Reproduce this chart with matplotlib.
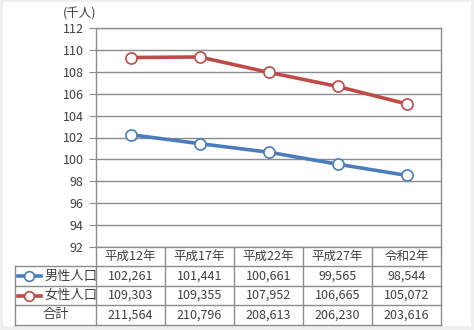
import matplotlib
matplotlib.use('Agg')
import matplotlib.pyplot as plt
from matplotlib.lines import Line2D

plt.rcParams['font.family'] = ['Noto Sans CJK JP', 'DejaVu Sans']

# data
YEARS = ['平成12年', '平成17年', '平成22年', '平成27年', '令和2年']
MALE = [102261, 101441, 100661, 99565, 98544]
FEMALE = [109303, 109355, 107952, 106665, 105072]
TOTAL = [211564, 210796, 208613, 206230, 203616]
SERIES_NAMES = ['男性人口', '女性人口']
TOTAL_NAME = '合計'
UNIT_LABEL = '(千人)'
Y_TICKS = list(range(92, 113, 2))

BLUE = '#4a7ebb'
RED = '#be4b48'
GRID = '#8c8c8c'
TEXT = '#404040'

W, H = 474, 330
fig = plt.figure(figsize=(W / 100, H / 100), dpi=100)
fig.patch.set_facecolor('#efefef')

# white panel
bg = fig.add_axes([3 / W, 1 - 326 / H, 468 / W, 324 / H])
bg.set_facecolor('white')
bg.set_xticks([])
bg.set_yticks([])
for s in bg.spines.values():
    s.set_visible(False)

# plot area in pixels
left, right, top, bottom = 96, 441, 28, 247
ax = fig.add_axes([left / W, 1 - bottom / H, (right - left) / W, (bottom - top) / H])
ax.set_facecolor('none')
x = range(len(YEARS))
ax.set_xlim(-0.5, len(YEARS) - 0.5)
ax.set_ylim(92, 112)
ax.set_yticks(Y_TICKS)
ax.set_yticklabels([str(t) for t in Y_TICKS], fontsize=9, color=TEXT)
ax.set_xticks([])
ax.tick_params(axis='y', length=5, color=GRID, pad=4)
ax.grid(axis='y', color=GRID, lw=1)
ax.set_axisbelow(True)
for s in ax.spines.values():
    s.set_color(GRID)
    s.set_linewidth(1)

for vals, col in [(MALE, BLUE), (FEMALE, RED)]:
    ax.plot(x, [v / 1000 for v in vals], color=col, lw=2.6, marker='o', ms=8,
            mfc='white', mec=col, mew=1.2, clip_on=False, zorder=3)

fig.text(63 / W, 1 - 14 / H, UNIT_LABEL, fontsize=9, color=TEXT, va='center')

# table drawn in pixel coordinates
tb = fig.add_axes([0, 0, 1, 1])
tb.set_xlim(0, W)
tb.set_ylim(H, 0)
tb.axis('off')

tleft = 15
colw = (right - left) / len(YEARS)
rows_y = [247, 266.4, 285.8, 305.2, 324.6]
edges = [left + i * colw for i in range(len(YEARS) + 1)]

# horizontal lines
for yy in rows_y[1:]:
    tb.plot([tleft, right], [yy, yy], color=GRID, lw=1)
# vertical lines
tb.plot([tleft, tleft], [rows_y[1], rows_y[4]], color=GRID, lw=1)
for e in edges:
    tb.plot([e, e], [rows_y[0], rows_y[4]], color=GRID, lw=1)

cy = [(rows_y[i] + rows_y[i + 1]) / 2 for i in range(4)]
for i, lab in enumerate(YEARS):
    cx = left + (i + 0.5) * colw
    tb.text(cx, cy[0], lab, ha='center', va='center', fontsize=9, color=TEXT)
    tb.text(cx, cy[1], f'{MALE[i]:,}', ha='center', va='center', fontsize=9, color=TEXT)
    tb.text(cx, cy[2], f'{FEMALE[i]:,}', ha='center', va='center', fontsize=9, color=TEXT)
    tb.text(cx, cy[3], f'{TOTAL[i]:,}', ha='center', va='center', fontsize=9, color=TEXT)

for j, (name, col) in enumerate(zip(SERIES_NAMES, [BLUE, RED])):
    yy = cy[j + 1]
    tb.add_line(Line2D([18, 41], [yy, yy], color=col, lw=2.6))
    tb.plot([29.5], [yy], marker='o', ms=7, mfc='white', mec=col, mew=1.2)
    tb.text(44, yy, name, ha='left', va='center', fontsize=9.5, color=TEXT)
tb.text((tleft + left) / 2, cy[3], TOTAL_NAME, ha='center', va='center', fontsize=9.5, color=TEXT)

fig.savefig('out.png', dpi=100)
